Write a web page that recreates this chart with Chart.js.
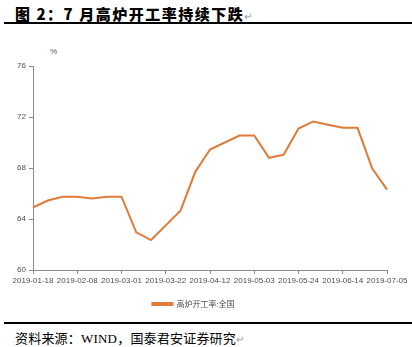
<!DOCTYPE html>
<html>
<head>
<meta charset="utf-8">
<script src="https://cdn.jsdelivr.net/npm/chart.js@4"></script>
<style>
  body { margin: 0; width: 412px; height: 347px; background: #fff; position: relative; overflow: hidden; font-family: "Noto Sans CJK SC", sans-serif; }
  #title { position: absolute; left: 15px; top: 3px; font-size: 15px; font-weight: 900; color: #000; white-space: nowrap; letter-spacing: 1.5px; }
  .mark { color: #999; font-weight: 400; font-size: 10px; letter-spacing: 0; }
  #topLine { position: absolute; left: 4px; top: 22px; width: 408px; height: 2px; background: #000; }
  #bottomLine { position: absolute; left: 4px; top: 322px; width: 408px; height: 2px; background: #000; }
  #source { position: absolute; left: 15px; top: 328px; font-size: 13px; color: #000; white-space: nowrap; letter-spacing: 0.2px; }
  #unit { position: absolute; left: 50px; top: 47px; font-size: 8px; color: #595959; font-family: "Liberation Sans", sans-serif; }
  #wrap { position: absolute; left: 0; top: 40px; width: 412px; height: 278px; }
</style>
</head>
<body>
<div id="title">图 2：7 月高炉开工率持续下跌<span class="mark">↵</span></div>
<div id="topLine"></div>
<div id="unit">%</div>
<div id="wrap"><canvas id="blastChart"></canvas></div>
<div id="bottomLine"></div>
<div id="source">资料来源：<span style="font-family:'Liberation Serif',serif">WIND</span>，国泰君安证券研究<span class="mark">↵</span></div>

<script>
// 周度数据 2019-01-18 ~ 2019-07-05
const weekDates = [
  '2019-01-18', '2019-01-25', '2019-02-01', '2019-02-08', '2019-02-15',
  '2019-02-22', '2019-03-01', '2019-03-08', '2019-03-15', '2019-03-22',
  '2019-03-29', '2019-04-05', '2019-04-12', '2019-04-19', '2019-04-26',
  '2019-05-03', '2019-05-10', '2019-05-17', '2019-05-24', '2019-05-31',
  '2019-06-07', '2019-06-14', '2019-06-21', '2019-06-28', '2019-07-05'
];
const blastRate = [
  64.9, 65.45, 65.75, 65.75, 65.6,
  65.75, 65.75, 62.95, 62.35, 63.5,
  64.65, 67.7, 69.45, 70.0, 70.55,
  70.55, 68.8, 69.05, 71.1, 71.65,
  71.4, 71.15, 71.15, 67.95, 66.3
];
const seriesName = '高炉开工率:全国';
const yTicks = [60, 64, 68, 72, 76];

const lineColor = '#E07B37';
const axisColor = '#8c8c8c';
const textColor = '#4d4d4d';

const blastCanvas = document.getElementById('blastChart');

new Chart(blastCanvas, {
  type: 'line',
  data: {
    labels: weekDates,
    datasets: [{
      label: seriesName,
      data: blastRate,
      borderColor: lineColor,
      backgroundColor: lineColor,
      borderWidth: 2,
      pointRadius: 0,
      tension: 0
    }]
  },
  options: {
    responsive: true,
    maintainAspectRatio: false,
    animation: false,
    layout: { padding: { top: 26, right: 25, left: 0, bottom: 0 } },
    plugins: {
      tooltip: { enabled: false },
      legend: {
        position: 'bottom',
        labels: {
          boxWidth: 20,
          boxHeight: 2,
          padding: 12,
          color: textColor,
          font: { size: 8, family: '"Noto Sans CJK SC", sans-serif' }
        }
      }
    },
    scales: {
      x: {
        offset: false,
        grid: {
          drawOnChartArea: false,
          color: axisColor,
          tickLength: 4
        },
        border: { color: axisColor, width: 1 },
        ticks: {
          autoSkip: false,
          maxRotation: 0,
          minRotation: 0,
          padding: 2,
          color: textColor,
          font: { size: 8, family: '"Liberation Sans", sans-serif' },
          callback: function(value, index) {
            return index % 3 === 0 ? weekDates[index] : null;
          }
        },
        afterFit: function(scale) { scale.height = 18; }
      },
      y: {
        min: 60,
        max: 76,
        afterBuildTicks: function(scale) {
          scale.ticks = yTicks.map(v => ({ value: v }));
        },
        grid: {
          drawOnChartArea: false,
          color: axisColor,
          tickLength: 4
        },
        border: { color: axisColor, width: 1 },
        ticks: {
          padding: 3,
          color: textColor,
          font: { size: 8, family: '"Liberation Sans", sans-serif' }
        },
        afterFit: function(scale) { scale.width = 33; }
      }
    }
  }
});
</script>
</body>
</html>
